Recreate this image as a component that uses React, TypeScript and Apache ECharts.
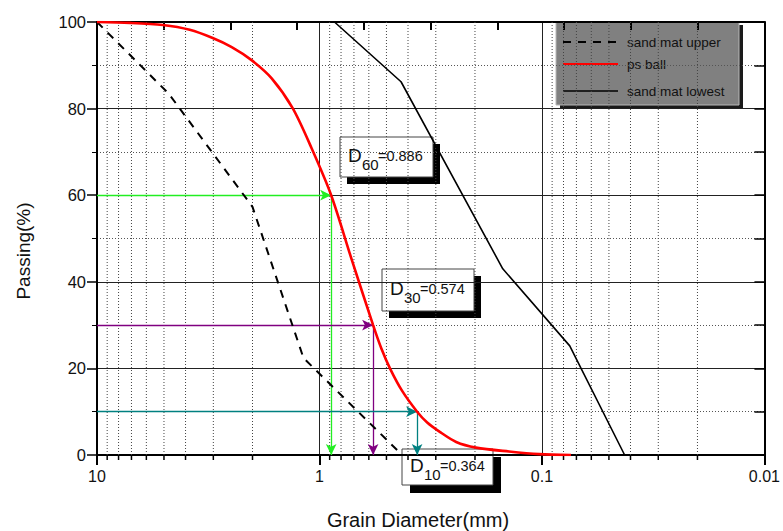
import React, { useEffect, useRef } from "react";
import * as echarts from "echarts";

// ---- data ----
const psBallD = [10, 7.11, 5.06, 3.83, 3.02, 2.48, 2.02, 1.64, 1.32, 1.086, 0.886, 0.718, 0.574, 0.527, 0.481, 0.425, 0.364, 0.328, 0.289, 0.243, 0.198, 0.1406, 0.103, 0.074];
const psBallP = [100, 99.8, 99.3, 98.2, 96.3, 94.2, 91.2, 87.0, 80.1, 70.9, 60, 45.3, 30, 24.6, 19.9, 14.8, 10, 7.5, 5.4, 3.0, 1.7, 0.8, 0.2, 0];

const upperD = [10, 4.75, 2.0, 1.18, 0.425];
const upperP = [100, 83.4, 57.3, 22.4, 0];

const lowestD = [0.856, 0.43, 0.15, 0.075, 0.0425];
const lowestP = [100, 86.2, 43, 25.2, 0];

const dMarks = [
  { p: 60, d: 0.886, label: "60", value: "=0.886", color: "#22ee22" },
  { p: 30, d: 0.574, label: "30", value: "=0.574", color: "#800080" },
  { p: 10, d: 0.364, label: "10", value: "=0.364", color: "#008080" },
];

const minorGridX = [9, 8, 7, 6, 5, 4, 3, 2, 0.9, 0.8, 0.7, 0.6, 0.5, 0.4, 0.3, 0.2, 0.09, 0.08, 0.07, 0.06, 0.05, 0.04, 0.03, 0.02];

const legendNames = ["sand mat upper", "ps ball", "sand mat lowest"];
const xTitle = "Grain Diameter(mm)";
const yTitle = "Passing(%)";

const FONT = "'Liberation Sans', Arial, sans-serif";

function zip(a: number[], b: number[]) {
  return a.map((v, i) => [v, b[i]]);
}

function annotationBox(x: number, y: number, w: number, h: number, sub: string, val: string, sh: number) {
  return {
    type: "group",
    x,
    y,
    z: 100,
    children: [
      { type: "rect", shape: { x: sh, y: sh, width: w, height: h }, style: { fill: "#000" } },
      { type: "rect", shape: { x: 0, y: 0, width: w, height: h }, style: { fill: "#fff", stroke: "#444", lineWidth: 1 } },
      { type: "text", x: 8, y: h / 2 - 2, style: { text: "D", fontSize: 19, fontFamily: FONT, fill: "#111", verticalAlign: "middle", align: "left" } },
      { type: "text", x: 22, y: h / 2 + 7, style: { text: sub, fontSize: 15, fontFamily: FONT, fill: "#111", verticalAlign: "middle", align: "left" } },
      { type: "text", x: 38, y: h / 2 - 1, style: { text: val, fontSize: 14.5, fontFamily: FONT, fill: "#111", verticalAlign: "middle", align: "left" } },
    ],
  };
}

export default function App() {
  const ref = useRef<HTMLDivElement>(null);

  useEffect(() => {
    if (!ref.current) return;
    const chart = echarts.init(ref.current, undefined, { renderer: "svg" });

    const markData: any[] = [];
    dMarks.forEach((m) => {
      const ls = { color: m.color, width: 1.3, type: "solid" };
      const is = { color: m.color };
      markData.push([
        { coord: [10, m.p], lineStyle: ls, itemStyle: is },
        { coord: [m.d, m.p], lineStyle: ls, itemStyle: is },
      ]);
      markData.push([
        { coord: [m.d, m.p], lineStyle: ls, itemStyle: is },
        { coord: [m.d, 0], lineStyle: ls, itemStyle: is },
      ]);
    });

    const option: any = {
      animation: false,
      grid: { left: 97, right: 17, top: 22, bottom: 76, containLabel: false },
      xAxis: [
        {
          type: "log",
          logBase: 10,
          min: 0.01,
          max: 10,
          inverse: true,
          position: "bottom",
          axisLine: { show: true, onZero: false, lineStyle: { color: "#000", width: 2 } },
          axisTick: { show: true, inside: false, length: 10, lineStyle: { color: "#000", width: 2 } },
          axisLabel: {
            fontSize: 16,
            fontFamily: FONT,
            color: "#111",
            margin: 13,
            formatter: (v: number) => String(v),
          },
          splitLine: { show: true, lineStyle: { color: "#222", width: 1 } },
        },
        {
          type: "value",
          min: 0,
          max: 10,
          interval: 1,
          position: "top",
          axisLine: { show: true, onZero: false, lineStyle: { color: "#000", width: 2 } },
          axisTick: { show: true, inside: true, length: 8, lineStyle: { color: "#000", width: 2 } },
          axisLabel: { show: false },
          splitLine: { show: false },
        },
      ],
      yAxis: [
        {
          type: "value",
          min: 0,
          max: 100,
          interval: 20,
          position: "left",
          axisLine: { show: true, onZero: false, lineStyle: { color: "#000", width: 2 } },
          axisTick: { show: true, inside: false, length: 10, lineStyle: { color: "#000", width: 1.5 } },
          minorTick: { show: true, splitNumber: 2, length: 5, lineStyle: { color: "#000", width: 1 } },
          axisLabel: { fontSize: 16.5, fontFamily: FONT, color: "#111", margin: 11 },
          splitLine: { show: true, lineStyle: { color: "#222", width: 1 } },
          minorSplitLine: { show: true, lineStyle: { color: "#555", width: 1, type: [1, 2] } },
        },
        {
          type: "value",
          min: 0,
          max: 100,
          interval: 10,
          position: "right",
          axisLine: { show: true, onZero: false, lineStyle: { color: "#000", width: 2 } },
          axisTick: { show: true, inside: true, length: 10, lineStyle: { color: "#000", width: 1.5 } },
          axisLabel: { show: false },
          splitLine: { show: false },
        },
      ],
      series: [
        {
          type: "custom",
          xAxisIndex: 0,
          yAxisIndex: 0,
          silent: true,
          clip: false,
          z: 1,
          data: minorGridX.map((v) => [v, 0]),
          encode: { x: 0, y: 1 },
          renderItem: (params: any, api: any) => {
            const v = api.value(0);
            const top = api.coord([v, 100]);
            const bot = api.coord([v, 0]);
            return {
              type: "group",
              children: [
                {
                  type: "line",
                  shape: { x1: top[0], y1: top[1], x2: bot[0], y2: bot[1] },
                  style: { stroke: "#444", lineWidth: 1, lineDash: [1, 2] },
                },
                {
                  type: "line",
                  shape: { x1: bot[0], y1: bot[1], x2: bot[0], y2: bot[1] + 5 },
                  style: { stroke: "#000", lineWidth: 1.5 },
                },
              ],
            };
          },
        },
        {
          name: legendNames[0],
          type: "line",
          xAxisIndex: 0,
          yAxisIndex: 0,
          data: zip(upperD, upperP),
          showSymbol: false,
          symbol: "none",
          z: 5,
          lineStyle: { color: "#000", width: 2, type: [8, 7] },
        },
        {
          name: legendNames[1],
          type: "line",
          xAxisIndex: 0,
          yAxisIndex: 0,
          data: zip(psBallD, psBallP),
          showSymbol: false,
          symbol: "none",
          smooth: 0.3,
          z: 6,
          lineStyle: { color: "#ff0000", width: 2.6 },
          markLine: {
            silent: true,
            symbol: ["none", "arrow"],
            symbolSize: [8, 11],
            label: { show: false },
            emphasis: { disabled: true },
            data: markData,
          },
        },
        {
          name: legendNames[2],
          type: "line",
          xAxisIndex: 0,
          yAxisIndex: 0,
          data: zip(lowestD, lowestP),
          showSymbol: false,
          symbol: "none",
          z: 5,
          lineStyle: { color: "#000", width: 1.6 },
        },
      ],
      graphic: [
        {
          type: "group",
          x: 556,
          y: 22,
          z: 100,
          children: [
            { type: "rect", shape: { x: 4, y: 3, width: 183, height: 83 }, style: { fill: "#1a1a1a" } },
            { type: "rect", shape: { x: 0, y: 0, width: 183, height: 83 }, style: { fill: "#808080", stroke: "#b8b8b8", lineWidth: 1 } },
            { type: "line", shape: { x1: 7, y1: 20, x2: 62, y2: 20 }, style: { stroke: "#000", lineWidth: 2, lineDash: [8, 7] } },
            { type: "line", shape: { x1: 7, y1: 42, x2: 62, y2: 42 }, style: { stroke: "#ff0000", lineWidth: 2 } },
            { type: "line", shape: { x1: 7, y1: 69, x2: 62, y2: 69 }, style: { stroke: "#000", lineWidth: 1.6 } },
            { type: "text", x: 71, y: 20, style: { text: legendNames[0], fontSize: 13.5, fontFamily: FONT, fill: "#111", verticalAlign: "middle" } },
            { type: "text", x: 71, y: 42, style: { text: legendNames[1], fontSize: 13.5, fontFamily: FONT, fill: "#111", verticalAlign: "middle" } },
            { type: "text", x: 71, y: 69, style: { text: legendNames[2], fontSize: 13.5, fontFamily: FONT, fill: "#111", verticalAlign: "middle" } },
          ],
        },
        annotationBox(340, 137, 93, 40, dMarks[0].label, dMarks[0].value, 7),
        annotationBox(382, 269, 92, 42, dMarks[1].label, dMarks[1].value, 7),
        annotationBox(402, 449, 91, 36, dMarks[2].label, dMarks[2].value, 8),
        {
          type: "text",
          x: 418,
          y: 520,
          z: 100,
          style: { text: xTitle, fontSize: 20, fontFamily: FONT, fill: "#111", align: "center", verticalAlign: "middle" },
        },
        {
          type: "text",
          x: 23,
          y: 251,
          rotation: Math.PI / 2,
          z: 100,
          style: { text: yTitle, fontSize: 19, fontFamily: FONT, fill: "#111", align: "center", verticalAlign: "middle" },
        },
      ],
    };

    chart.setOption(option);
    return () => chart.dispose();
  }, []);

  return (
    <div
      ref={ref}
      style={{ position: "fixed", left: 0, top: 0, width: 783, height: 531, background: "#fff" }}
    />
  );
}
